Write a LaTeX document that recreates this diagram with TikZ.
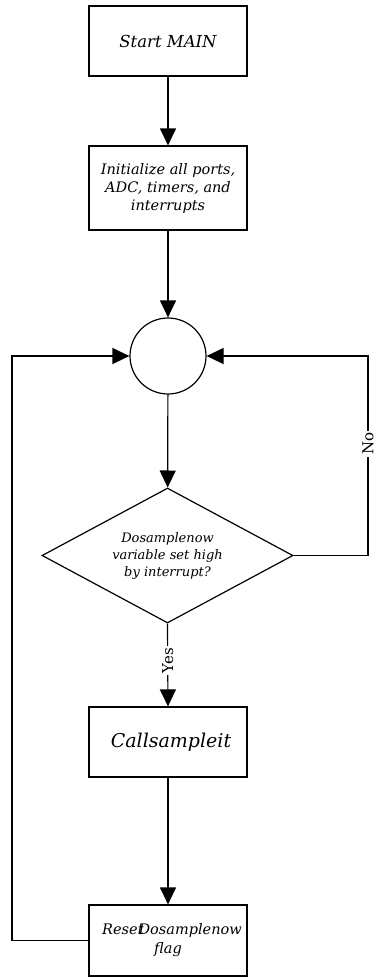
\documentclass[tikz,border=0pt]{standalone}
\usepackage{fontspec}
\setmainfont{DejaVu Serif}
\usetikzlibrary{shapes.geometric,arrows.meta}
\begin{document}
\begin{tikzpicture}[x=1pt,y=-1pt,line width=1.2pt,
  box/.style={draw,rectangle,minimum width=158pt,inner sep=0pt,align=center},
  tip/.style={-{Triangle[length=17pt,width=16pt]}},
  lbl/.style={fill=white,rotate=90,inner sep=2pt,font=\fontsize{15}{15}\selectfont}]
\useasboundingbox (0,0) rectangle (377,978);

% process boxes
\node[box,minimum height=70pt,font=\fontsize{16.5}{20}\selectfont\itshape]
  (start) at (168,41) {Start MAIN};
\node[box,minimum height=84pt,font=\fontsize{14.5}{18}\selectfont\itshape]
  (init) at (168,188) {Initialize all ports,\\ADC, timers, and\\interrupts};
\node[draw,circle,minimum size=76pt,inner sep=0pt] (join) at (168,356) {};
\node[draw,diamond,shape aspect=1.86,minimum width=251pt,minimum height=135pt,
  inner sep=0pt,align=center,font=\fontsize{13}{17}\selectfont\itshape]
  (test) at (167.5,555.5) {Dosamplenow\\variable set high\\by interrupt?};
\node[box,minimum height=70pt,font=\fontsize{19}{22}\selectfont\itshape]
  (call) at (168,742) {\hspace*{6pt}Callsampleit};
\node[box,minimum height=71pt,font=\fontsize{14.5}{19}\selectfont\itshape]
  (reset) at (168,940.5) {\hspace*{8pt}Reset\kern-5pt Dosamplenow\\flag};

% x positions of the two loop-back lines
\coordinate (lx) at (12,0);
\coordinate (rx) at (368,0);

% main flow
\draw[tip] (start) -- (init);
\draw[tip] (init) -- (join);
\draw[tip] (join) -- (test);
\draw[tip] (test.south) -- node[lbl,pos=0.45] (yes) {Yes} (call.north);
\draw[tip] (call) -- (reset);

% loop back when the flag is not set
\draw[tip] (test.east) -- (test.east -| rx)
  -- node[lbl,pos=0.56] (no) {No} (join.east -| rx) -- (join.east);

% loop back after the flag is reset
\draw[tip] (reset.west) -- (reset.west -| lx) -- (join.west -| lx) -- (join.west);
\end{tikzpicture}
\end{document}
